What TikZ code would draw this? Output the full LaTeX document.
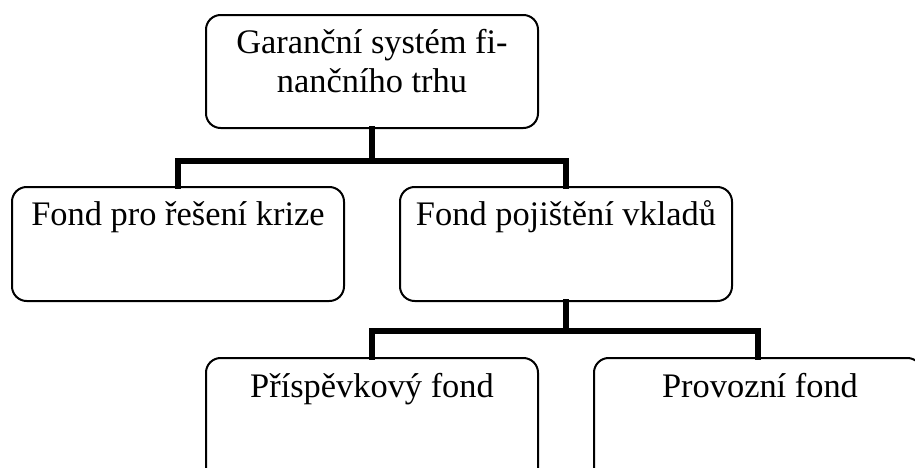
\documentclass[tikz,border=0pt]{standalone}
\usepackage{fontspec}
\setmainfont{Liberation Serif}
\begin{document}
\begin{tikzpicture}[x=0.75pt,y=-0.75pt,
  box/.style={draw=black, line width=1.5pt, rounded corners=11pt, minimum width=249pt, inner sep=0pt, fill=white},
  txt/.style={font=\fontsize{25.8pt}{29.4pt}\selectfont, inner sep=0pt, align=center},
  conn/.style={line width=4.5pt, line join=miter, line cap=rect}]
\useasboundingbox (0,0) rectangle (915,468);
\clip (0,0) rectangle (915,468);
\fill[white] (0,0) rectangle (915,468);
% junction points
\coordinate (j1) at (372,161);
\coordinate (j2) at (566,331);
% boxes
\node[box, minimum height=84.75pt] (top) at (372,71.5) {};
\node[box, minimum height=85.5pt] (L) at (178,244) {};
\node[box, minimum height=85.5pt] (R) at (566,244) {};
\node[box, minimum height=105pt] (BL) at (372,428) {};
\node[box, minimum height=105pt, minimum width=246pt] (BR) at (758,428) {};
% connectors
\draw[conn] (top.south) -- (j1);
\draw[conn] (L.north) |- (j1) -| (R.north);
\draw[conn] (R.south) -- (j2);
\draw[conn] (BL.north) |- (j2) -| (BR.north);
% texts
\node[txt, anchor=base] (t1a) at (372,53) {Garanční systém fi-};
\node[txt, anchor=base] (t1b) at (372,92) {nančního trhu};
\node[txt, anchor=base] (tL) at (178,225) {Fond pro řešení krize};
\node[txt, anchor=base] (tR) at (566,225) {Fond pojištění vkladů};
\node[txt, anchor=base] (tBL) at (372,397) {Příspěvkový fond};
\node[txt, anchor=base] (tBR) at (760,397) {Provozní fond};
\end{tikzpicture}
\end{document}
